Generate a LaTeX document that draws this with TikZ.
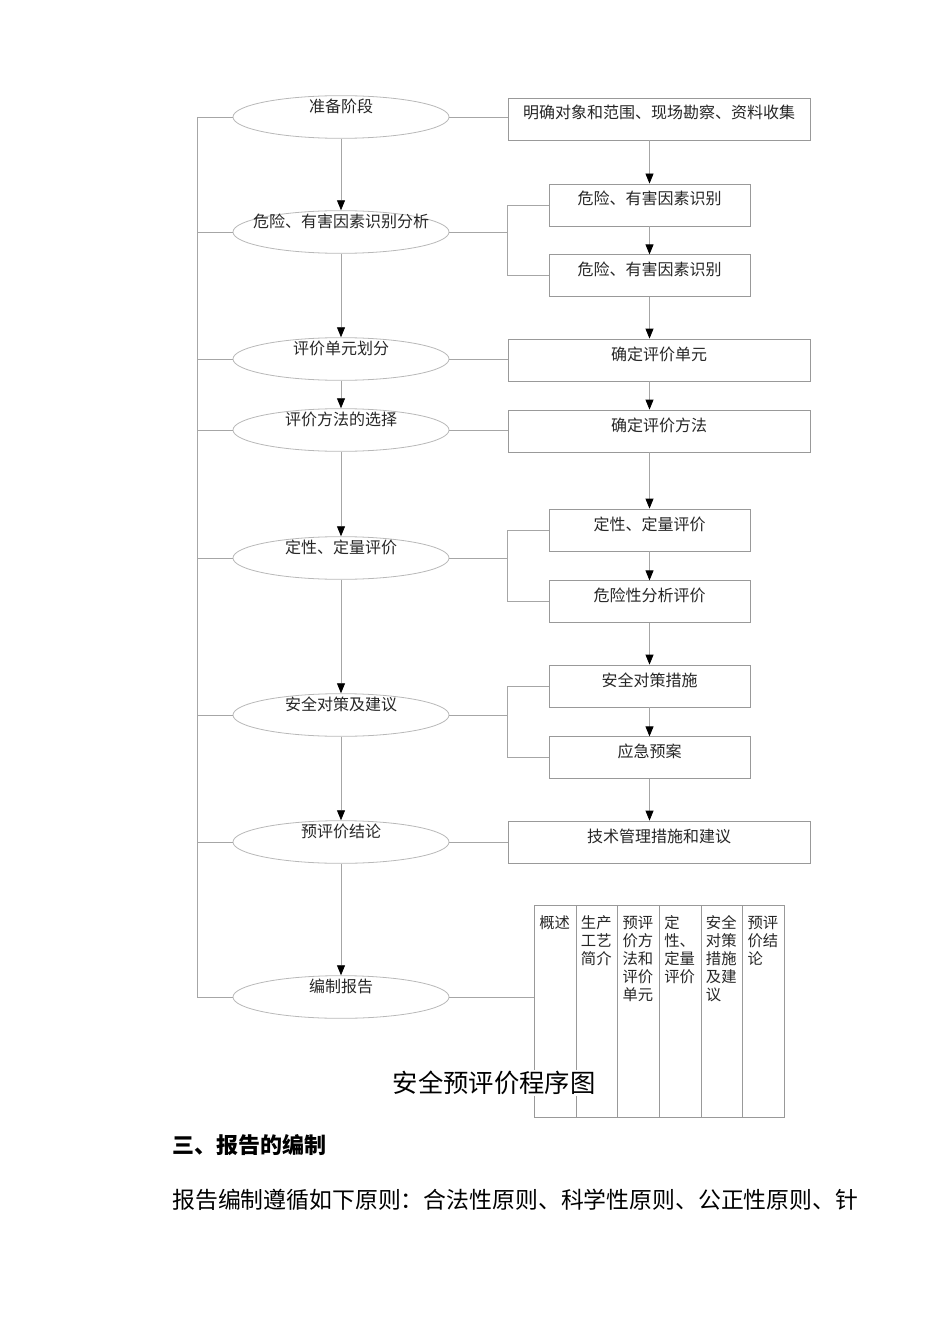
\documentclass[tikz,border=0pt]{standalone}
\usepackage{fontspec}
\setmainfont{Noto Sans CJK SC}
\usepackage{tikz}
\usetikzlibrary{positioning,shapes.geometric,arrows.meta}

\begin{document}
\begin{tikzpicture}[
    x=0.75pt, y=-0.75pt,
    every node/.style={font=\fontsize{12pt}{14pt}\selectfont, text=black!85},
    stage/.style={ellipse, draw=black!28, line width=0.6pt, minimum width=162pt, minimum height=32pt, inner sep=0pt, text height=0pt, text depth=6.5pt},
    bigbox/.style={rectangle, draw=black!40, line width=0.6pt, minimum width=226.5pt, minimum height=31.5pt, inner sep=0pt, text height=0pt, text depth=0pt},
    smallbox/.style={bigbox, minimum width=150.75pt},
    col/.style={rectangle, draw=black!40, line width=0.6pt, minimum width=31.25pt, minimum height=159pt, inner sep=0pt, anchor=north west},
    coltext/.style={anchor=north west, align=left, inner sep=0pt, font=\fontsize{11.5pt}{13.5pt}\selectfont},
    link/.style={draw=black!35, line width=0.6pt},
    arrow/.style={link, -{Triangle[width=6pt, length=7.5pt, color=black]}},
]
\useasboundingbox (0,0) rectangle (950,1344);

% Stages (left column)
\node[stage] (prep) at (341,117) {准备阶段};
\node[stage] (ident) at (341,232) {\makebox[0pt]{危险、有害因素识别分析}};
\node[stage] (unit) at (341,359) {评价单元划分};
\node[stage] (method) at (341,430) {评价方法的选择};
\node[stage] (qual) at (341,558) {定性、定量评价};
\node[stage] (measure) at (341,715) {安全对策及建议};
\node[stage] (concl) at (341,842) {预评价结论};
\node[stage] (report) at (341,997) {编制报告};

% Tasks (right column)
\node[bigbox] (scope) at (659,119) {明确对象和范围、现场勘察、资料收集};
\node[smallbox] (haz1) at (649.5,205) {危险、有害因素识别};
\node[smallbox, below=21pt of haz1] (haz2) {危险、有害因素识别};
\node[bigbox] (setunit) at (659,360) {确定评价单元};
\node[bigbox] (setmethod) at (659,431) {确定评价方法};
\node[smallbox] (qq) at (649.5,530) {定性、定量评价};
\node[smallbox, below=21.75pt of qq] (riskeval) {危险性分析评价};
\node[smallbox] (safety) at (649.5,686) {安全对策措施};
\node[smallbox, below=21.75pt of safety] (emerg) {应急预案};
\node[bigbox] (tech) at (659,842) {技术管理措施和建议};

% Report contents
\foreach \i/\txt in {1/概述, 2/{生产\\工艺\\简介}, 3/{预评\\价方\\法和\\评价\\单元}, 4/{定\\性、\\定量\\评价}, 5/{安全\\对策\\措施\\及建\\议}, 6/{预评\\价结\\论}} {
    \node[col] (col\i) at ({534+41.67*(\i-1)},905) {};
    \node[coltext] (coltext\i) at ([xshift=3.75pt, yshift=-8pt]col\i.north west) {\txt};
}

% Left spine
\coordinate (spinetop) at (197,117);
\coordinate (spinebot) at (197,997);
\draw[link] (spinetop) -- (spinebot);
\foreach \s in {prep,ident,unit,method,qual,measure,concl,report}
    \draw[link] (\s.west) -- (\s.west -| spinetop);

% Stage chain
\foreach \a/\b in {prep/ident, ident/unit, unit/method, method/qual, qual/measure, measure/concl, concl/report}
    \draw[arrow] (\a) -- (\b);

% Stages to tasks
\draw[link] (prep.east) -- (prep.east -| scope.west);
\draw[link] (unit.east) -- (unit.east -| setunit.west);
\draw[link] (method.east) -- (method.east -| setmethod.west);
\draw[link] (concl.east) -- (concl.east -| tech.west);
\draw[link] (report.east) -- (report.east -| col1.west);
\draw[link] (ident.east) -- (ident.east -| scope.west);
\draw[link] (haz1.west) -| (ident.east -| scope.west) |- (haz2.west);
\draw[link] (qual.east) -- (qual.east -| scope.west);
\draw[link] (qq.west) -| (qual.east -| scope.west) |- (riskeval.west);
\draw[link] (measure.east) -- (measure.east -| scope.west);
\draw[link] (safety.west) -| (measure.east -| scope.west) |- (emerg.west);

% Task chain
\draw[arrow] (scope.south -| haz1) -- (haz1);
\draw[arrow] (haz1) -- (haz2);
\draw[arrow] (haz2) -- (haz2 |- setunit.north);
\draw[arrow] (setunit.south -| haz1) -- (setmethod.north -| haz1);
\draw[arrow] (setmethod.south -| haz1) -- (qq);
\draw[arrow] (qq) -- (riskeval);
\draw[arrow] (riskeval) -- (safety);
\draw[arrow] (safety) -- (emerg);
\draw[arrow] (emerg) -- (emerg |- tech.north);

% Caption and text below
\node[font=\fontsize{19pt}{22pt}\selectfont, text=black, fill=white, inner sep=1pt] (title) at (494,1083) {安全预评价程序图};
\node[anchor=west, inner sep=0pt, font=\fontsize{16.5pt}{20pt}\selectfont\bfseries, text=black] (heading) at (172,1145) {三、报告的编制};
\node[anchor=west, inner sep=0pt, font=\fontsize{17.15pt}{20pt}\selectfont, text=black] (principle) at (172,1200) {报告编制遵循如下原则：合法性原则、科学性原则、公正性原则、针};

\end{tikzpicture}
\end{document}
